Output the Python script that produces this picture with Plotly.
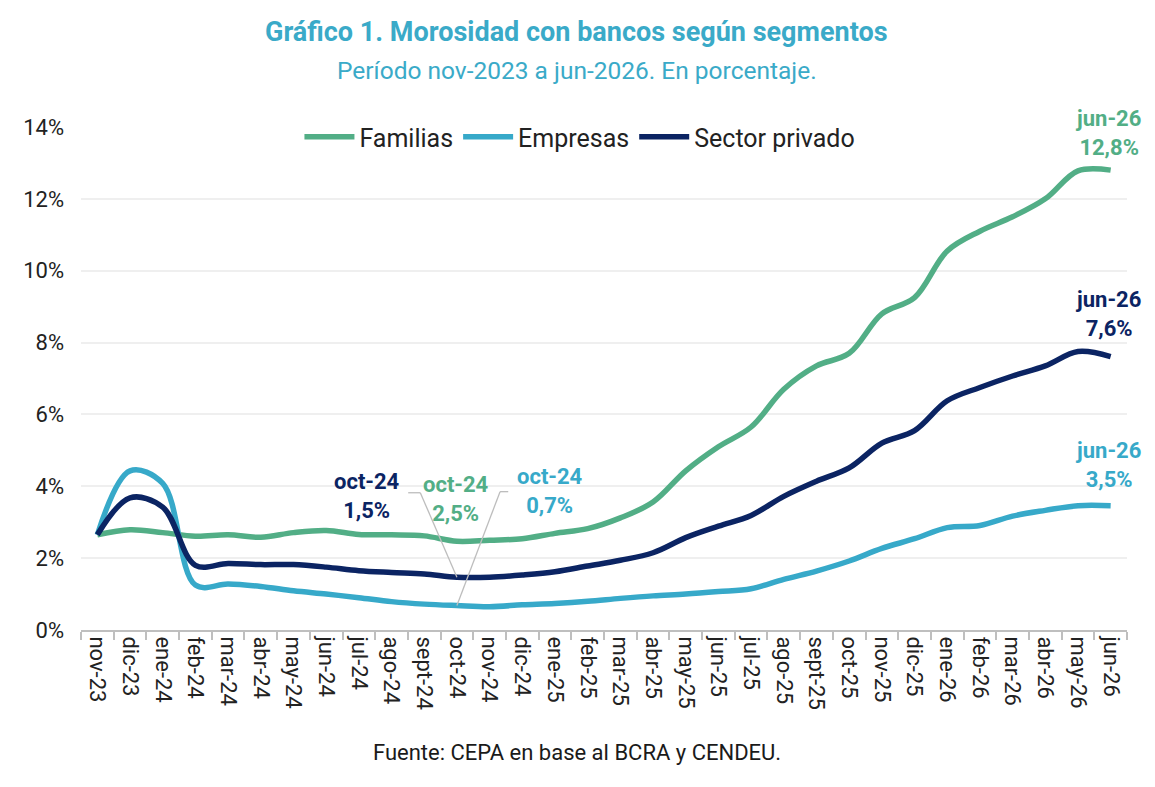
import plotly.graph_objects as go

months = ['nov-23', 'dic-23', 'ene-24', 'feb-24', 'mar-24', 'abr-24', 'may-24', 'jun-24',
          'jul-24', 'ago-24', 'sept-24', 'oct-24', 'nov-24', 'dic-24', 'ene-25', 'feb-25',
          'mar-25', 'abr-25', 'may-25', 'jun-25', 'jul-25', 'ago-25', 'sept-25', 'oct-25',
          'nov-25', 'dic-25', 'ene-26', 'feb-26', 'mar-26', 'abr-26', 'may-26', 'jun-26']

familias = [2.65, 2.79, 2.71, 2.61, 2.65, 2.58, 2.71, 2.77, 2.66, 2.65, 2.62, 2.47, 2.50,
            2.54, 2.69, 2.82, 3.12, 3.56, 4.43, 5.10, 5.65, 6.70, 7.35, 7.70, 8.80, 9.25,
            10.55, 11.10, 11.50, 12.00, 12.78, 12.80]

empresas = [2.65, 4.43, 4.08, 1.25, 1.28, 1.21, 1.09, 1.00, 0.90, 0.79, 0.72, 0.68, 0.65,
            0.70, 0.74, 0.80, 0.88, 0.95, 1.00, 1.07, 1.15, 1.41, 1.64, 1.92, 2.27, 2.54,
            2.85, 2.91, 3.17, 3.33, 3.46, 3.46]

privado = [2.65, 3.68, 3.42, 1.80, 1.85, 1.82, 1.82, 1.75, 1.65, 1.60, 1.56, 1.47, 1.47,
           1.53, 1.62, 1.78, 1.94, 2.15, 2.57, 2.89, 3.19, 3.72, 4.14, 4.51, 5.20, 5.55,
           6.38, 6.75, 7.07, 7.35, 7.75, 7.61]

series_names = ['Familias', 'Empresas', 'Sector privado']
series_values = [familias, empresas, privado]
colors = ['#52AE86', '#37A9C9', '#0B2463']

FONT = 'Roboto'
TITLE_COLOR = '#3AAAC8'

fig = go.Figure()
for name, vals, col in zip(series_names, series_values, colors):
    fig.add_trace(go.Scatter(
        x=months, y=vals, name=name, mode='lines',
        line=dict(color=col, width=5.5, shape='spline', smoothing=1),
    ))

def fmt(v):
    return f"{v:.1f}".replace('.', ',') + '%'

annotations = []
last = len(months) - 1
oct_i = months.index('oct-24')

# end labels (jun-26)
for vals, col, shift in zip(series_values, colors, [8, 12, 14]):
    annotations.append(dict(
        x=last - 0.08, y=vals[last], xref='x', yref='y',
        text=f"{months[last]}<br>{fmt(vals[last])}", showarrow=False,
        yanchor='bottom', yshift=shift, align='center',
        font=dict(family=FONT, size=22, color=col, weight='bold'),
    ))

# oct-24 labels
oct_pos = {'Sector privado': (8.26, 3.72), 'Familias': (10.98, 3.64), 'Empresas': (13.85, 3.86)}
for name, vals, col in zip(series_names, series_values, colors):
    px, py = oct_pos[name]
    annotations.append(dict(
        x=px, y=py, xref='x', yref='y',
        text=f"{months[oct_i]}<br>{fmt(round(vals[oct_i], 1))}", showarrow=False,
        yanchor='middle', align='center',
        font=dict(family=FONT, size=22, color=col, weight='bold'),
    ))

# title, subtitle, source
annotations += [
    dict(x=0.474, y=1.189, xref='paper', yref='paper', showarrow=False,
         text='<b>Gráfico 1. Morosidad con bancos según segmentos</b>',
         xanchor='center', yanchor='middle',
         font=dict(family=FONT, size=27, color=TITLE_COLOR)),
    dict(x=0.474, y=1.113, xref='paper', yref='paper', showarrow=False,
         text='Período nov-2023 a jun-2026. En porcentaje.',
         xanchor='center', yanchor='middle',
         font=dict(family=FONT, size=24.5, color=TITLE_COLOR)),
    dict(x=0.474, y=-0.2445, xref='paper', yref='paper', showarrow=False,
         text='Fuente: CEPA en base al BCRA y CENDEU.',
         xanchor='center', yanchor='middle',
         font=dict(family=FONT, size=22, color='#1A1A1A')),
]

lead = dict(color='#BDBDBD', width=1.3)
shapes = [
    dict(type='line', xref='x', yref='y', x0=9.51, y0=3.82, x1=9.88, y1=3.82, line=lead),
    dict(type='line', xref='x', yref='y', x0=9.88, y0=3.82, x1=oct_i, y1=privado[oct_i], line=lead),
    dict(type='line', xref='x', yref='y', x0=12.32, y0=3.85, x1=12.57, y1=3.85, line=lead),
    dict(type='line', xref='x', yref='y', x0=12.32, y0=3.85, x1=oct_i, y1=empresas[oct_i], line=lead),
]

fig.update_layout(
    width=1155, height=787,
    margin=dict(l=73, r=36, t=119, b=165),
    paper_bgcolor='white', plot_bgcolor='white',
    font=dict(family=FONT, color='#222222'),
    legend=dict(
        orientation='h', x=0.477, xanchor='center', y=0.98, yanchor='middle',
        bgcolor='rgba(0,0,0,0)', font=dict(family=FONT, size=25, color='#222222'),
        itemwidth=50,
    ),
    xaxis=dict(
        type='category', range=[-0.5, len(months) - 0.5], tickangle=90,
        showline=True, linecolor='#BFBFBF', linewidth=2,
        ticks='outside', tickson='boundaries', ticklen=8, tickcolor='#BFBFBF', tickwidth=1.5,
        showgrid=False, tickfont=dict(family=FONT, size=22, color='#222222'),
    ),
    yaxis=dict(
        range=[0, 14], dtick=2, ticksuffix='%', showgrid=True, gridcolor='#EFEFEF',
        gridwidth=1.5, zeroline=False, showline=False, ticklabelstandoff=16,
        tickfont=dict(family=FONT, size=22, color='#222222'),
    ),
    annotations=annotations,
    shapes=shapes,
)

fig.write_html('out.html')
